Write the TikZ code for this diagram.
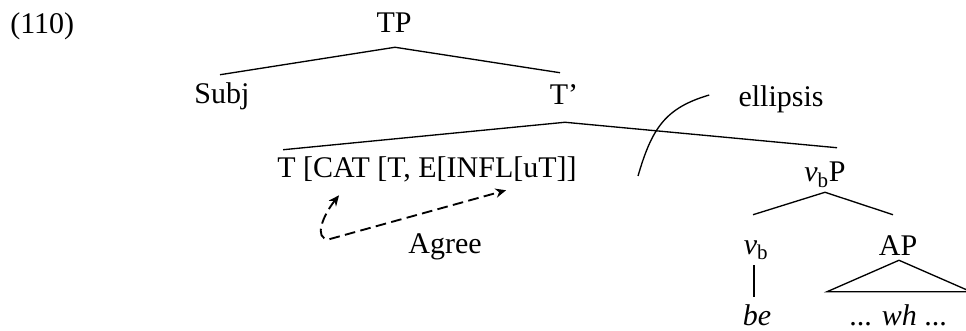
\documentclass[tikz,border=0pt]{standalone}
\usepackage{fontspec}
\setmainfont{Liberation Serif}
\usetikzlibrary{arrows.meta, positioning, calc}

\begin{document}
\begin{tikzpicture}[
    x=0.75pt, y=-0.75pt,
    lab/.style    = {inner sep=0pt, text height=15pt, text depth=4.5pt,
                     anchor=base, font=\fontsize{22.5}{27}\selectfont},
    branch/.style = {line width=1pt},
    agree/.style  = {{Stealth[length=8pt,width=7pt]}-{Stealth[length=8pt,width=7pt]},
                     line width=1.4pt, dash pattern=on 8pt off 4pt},
  ]
  \useasboundingbox (0,0) rectangle (966,331);

  \node[lab, anchor=base west] (num) at (10,34) {(110)};
  \node[lab] (tp)   at (394,33)  {TP};
  \node[lab] (subj) at (222,104) {Subj};
  \node[lab] (tbar) at (564,105) {T'};
  \node[lab] (ell)  at (781,107) {ellipsis};
  \node[lab] (tcat) at (427,178) {T [CAT [T, E[INFL[uT]]};
  \node[lab] (vbp)  at (825,182) {\textit{v}\textsubscript{b}P};
  \node[lab] (agr)  at (445,253) {Agree};
  \node[lab] (vb)   at (756,254) {\textit{v}\textsubscript{b}};
  \node[lab] (ap)   at (898,255) {AP};
  \node[lab] (be)   at (757,325) {\textit{be}};
  \node[lab] (wh)   at (898,325) {... \textit{wh} ...};
  \coordinate (cut) at (638,176);

  \draw[branch] ($(subj.north)+(-2,-9)$) -- ($(tp.south)+(1,8)$) -- ($(tbar.north)+(-4,-12)$);
  \draw[branch] ($(tcat.north west)+(6,-8)$) -- ($(tbar.south)+(1,11)$) -- ($(vbp.north)+(12,-14)$);
  \draw[branch] ($(vb.north)+(-3,-19)$) -- ($(vbp.south)+(0,4)$) -- ($(ap.north)+(-5,-20)$);
  \draw[branch] ($(vb.south)+(-2,5)$) -- ($(be.north)+(-3,-8)$);
  \draw[branch] ($(ap.south)+(1,-1)$) -- ($(wh.north)+(73,-13)$)
                -- ($(wh.north)+(-71,-13)$) -- cycle;

  \draw[branch] (cut) .. controls +(14,-48) and +(-44,13) .. ($(ell.west)+(-29,-5)$);

  \draw[agree] ($(tcat.south west)+(62,11)$) .. controls +(-16,20) and +(-16,0)
               .. ($(tcat.south west)+(52,55)$) -- ($(tcat.south west)+(229,6)$);

\end{tikzpicture}
\end{document}
